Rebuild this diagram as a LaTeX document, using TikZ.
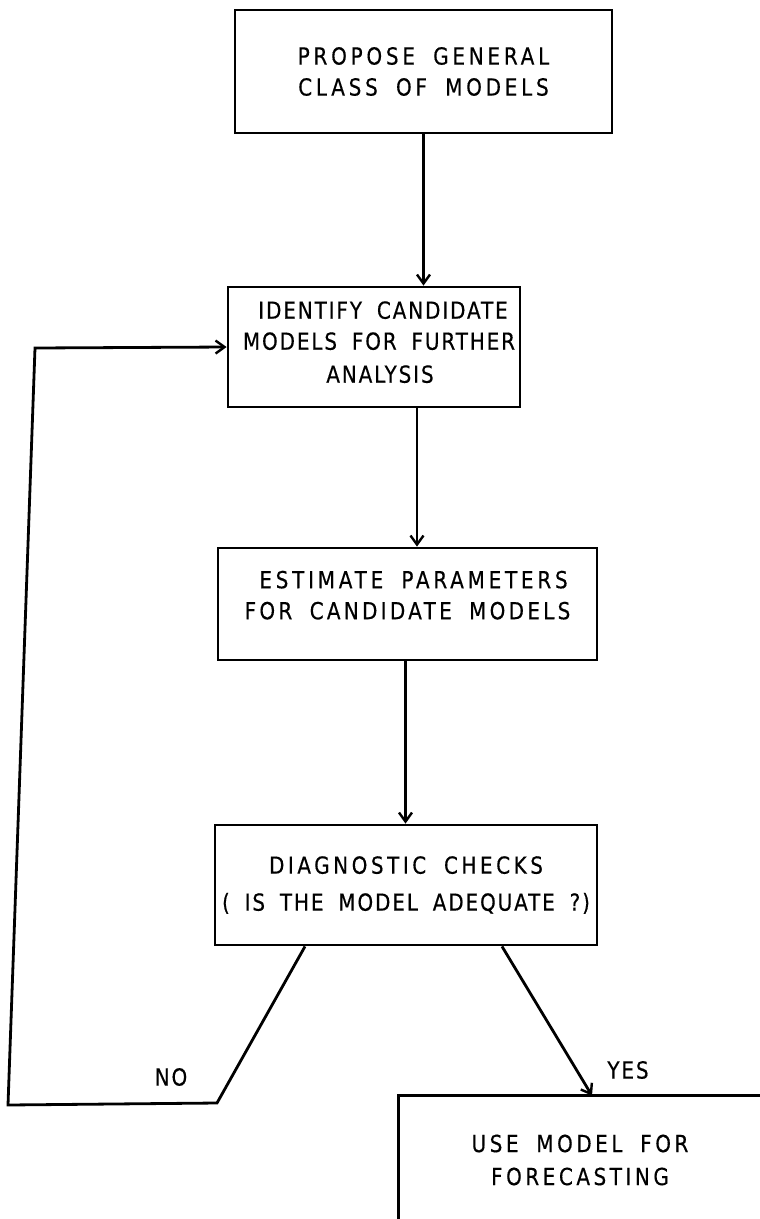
\documentclass[tikz,border=0pt]{standalone}
\usepackage{fontspec}
\setmainfont[LetterSpace=8,WordSpace=1.8,FakeStretch=0.85,FakeBold=0.4]{DejaVu Sans}
\newcommand{\wide}[1]{\addfontfeature{LetterSpace=#1}}
\usetikzlibrary{arrows.meta}
\begin{document}
\begin{tikzpicture}[x=1pt,y=-1pt,
  line width=2.8pt,
  >={Straight Barb[length=9pt,width=13pt,line width=2.4pt]},
  box/.style={draw,line width=2.8pt,align=center,inner sep=0pt,
    font=\fontsize{23.5}{31}\selectfont},
  lbl/.style={font=\fontsize{23.5}{25}\selectfont,inner sep=0pt}]
\useasboundingbox (0,0) rectangle (760,1219);
\node[box,minimum width=377pt,minimum height=123pt] (b1) at (423.5,71.5)
  {\wide{16}PROPOSE GENERAL\\\wide{16}CLASS OF MODELS};
\node[box,minimum width=292pt,minimum height=120pt,text depth=10pt] (b2) at (374,347)
  {\hspace*{18pt}IDENTIFY CANDIDATE\\\hspace*{10pt}MODELS FOR FURTHER\\[2pt]\hspace*{12pt}ANALYSIS};
\node[box,minimum width=379pt,minimum height=112pt,text depth=18pt] (b3) at (407.5,604)
  {\wide{16}\hspace*{12pt}ESTIMATE PARAMETERS\\\wide{14}FOR CANDIDATE MODELS};
\node[box,minimum width=382pt,minimum height=120pt] (b4) at (406,885)
  {\wide{15}DIAGNOSTIC CHECKS\\[6pt]( IS THE MODEL ADEQUATE ?)};
\node[align=center,inner sep=0pt,minimum width=360pt,minimum height=126pt,
  font=\fontsize{23.5}{33}\selectfont] (b5) at (580,1160)
  {\wide{15}USE MODEL FOR\\\wide{15}FORECASTING};
\draw (b5.south west) -- (b5.north west) -- (b5.north east);
\node[lbl] (no) at (171,1077) {NO};
\node[lbl] (yes) at (628,1070) {YES};
\draw[->] (b1.south) -- (b1.south |- b2.north);
\draw[->] ([xshift=43pt]b2.south) -- ([xshift=43pt]b2.south |- b3.north);
\draw[->] ([xshift=-2pt]b3.south) -- ([xshift=-2pt]b3.south |- b4.north);
\coordinate (c1) at (217,1103);
\coordinate (c2) at (8,1105);
\coordinate (c3) at (35,348);
\draw[->] ([xshift=-101pt]b4.south) -- (c1) -- (c2) -- (c3) -- (b2.west);
\draw[->] ([xshift=96pt]b4.south) -- ([xshift=12pt]b5.north);
\end{tikzpicture}
\end{document}
